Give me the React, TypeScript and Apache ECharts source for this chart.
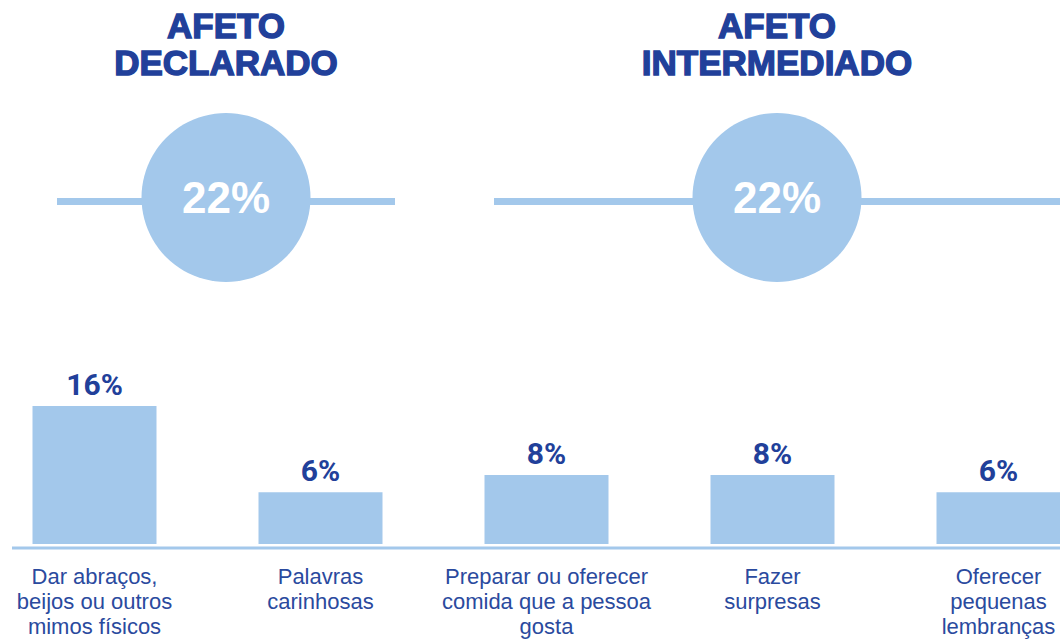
import React, { useEffect, useRef } from "react";
import * as echarts from "echarts";

const headerCategories = ["AFETO\nDECLARADO", "AFETO\nINTERMEDIADO"];
const headerValues = [22, 22];

const categories = [
  "Dar abraços,\nbeijos ou outros\nmimos físicos",
  "Palavras\ncarinhosas",
  "Preparar ou oferecer\ncomida que a pessoa\ngosta",
  "Fazer\nsurpresas",
  "Oferecer\npequenas\nlembranças",
];
const values = [16, 6, 8, 8, 6];

const LIGHT = "#a3c8eb";
const DARK = "#21409a";
const LABEL = "#2a4a9e";

export default function App() {
  const ref = useRef<HTMLDivElement>(null);
  useEffect(() => {
    if (!ref.current) return;
    const chart = echarts.init(ref.current, undefined, { renderer: "svg" });
    chart.setOption({
      animation: false,
      backgroundColor: "#ffffff",
      grid: [
        { left: 226, right: 283, top: 112, height: 171 },
        { left: 94.5, right: 61.5, top: 371.5, bottom: 90 },
      ],
      xAxis: [
        {
          type: "category",
          gridIndex: 0,
          position: "top",
          boundaryGap: false,
          data: headerCategories,
          axisLine: { show: false },
          axisTick: { show: false },
          axisLabel: {
            interval: 0,
            margin: 31,
            fontFamily: "Liberation Sans",
            fontWeight: "bold",
            fontSize: 35,
            lineHeight: 37,
            color: DARK,
            textBorderColor: DARK,
            textBorderWidth: 1.4,
          },
        },
        {
          type: "category",
          gridIndex: 1,
          boundaryGap: false,
          data: categories,
          axisLine: { show: false },
          axisTick: { show: false },
          axisLabel: {
            interval: 0,
            margin: 20,
            fontFamily: "Liberation Sans",
            fontSize: 22,
            lineHeight: 25,
            color: LABEL,
          },
        },
      ],
      yAxis: [
        { type: "value", gridIndex: 0, min: 0, max: 44, show: false },
        { type: "value", gridIndex: 1, min: 0, max: 20, show: false },
      ],
      graphic: [
        {
          type: "line",
          z: 0,
          shape: { x1: 57, y1: 201.5, x2: 395, y2: 201.5 },
          style: { stroke: LIGHT, lineWidth: 7 },
        },
        {
          type: "line",
          z: 0,
          shape: { x1: 494, y1: 201.5, x2: 1060, y2: 201.5 },
          style: { stroke: LIGHT, lineWidth: 7 },
        },
        {
          type: "line",
          z: 0,
          shape: { x1: 12, y1: 548, x2: 1060, y2: 548 },
          style: { stroke: LIGHT, lineWidth: 3 },
        },
      ],
      series: [
        {
          type: "scatter",
          xAxisIndex: 0,
          yAxisIndex: 0,
          z: 3,
          symbol: "circle",
          symbolSize: 169,
          clip: false,
          itemStyle: { color: LIGHT, opacity: 1 },
          data: headerValues.map((v, i) => [i, v]),
          label: {
            show: true,
            position: "inside",
            formatter: (p: any) => `${p.value[1]}%`,
            fontFamily: "Liberation Sans",
            fontWeight: "bold",
            fontSize: 44,
            color: "#ffffff",
          },
        },
        {
          type: "bar",
          xAxisIndex: 1,
          yAxisIndex: 1,
          z: 3,
          clip: false,
          barWidth: 124,
          data: values,
          itemStyle: { color: LIGHT },
          label: {
            show: true,
            position: "top",
            distance: 7,
            formatter: "{c}%",
            fontFamily: "Roboto",
            fontWeight: "bold",
            fontSize: 30,
            color: DARK,
          },
        },
      ],
    });
    return () => chart.dispose();
  }, []);
  return (
    <div
      ref={ref}
      style={{ position: "fixed", left: 0, top: 0, width: 1060, height: 639 }}
    />
  );
}
